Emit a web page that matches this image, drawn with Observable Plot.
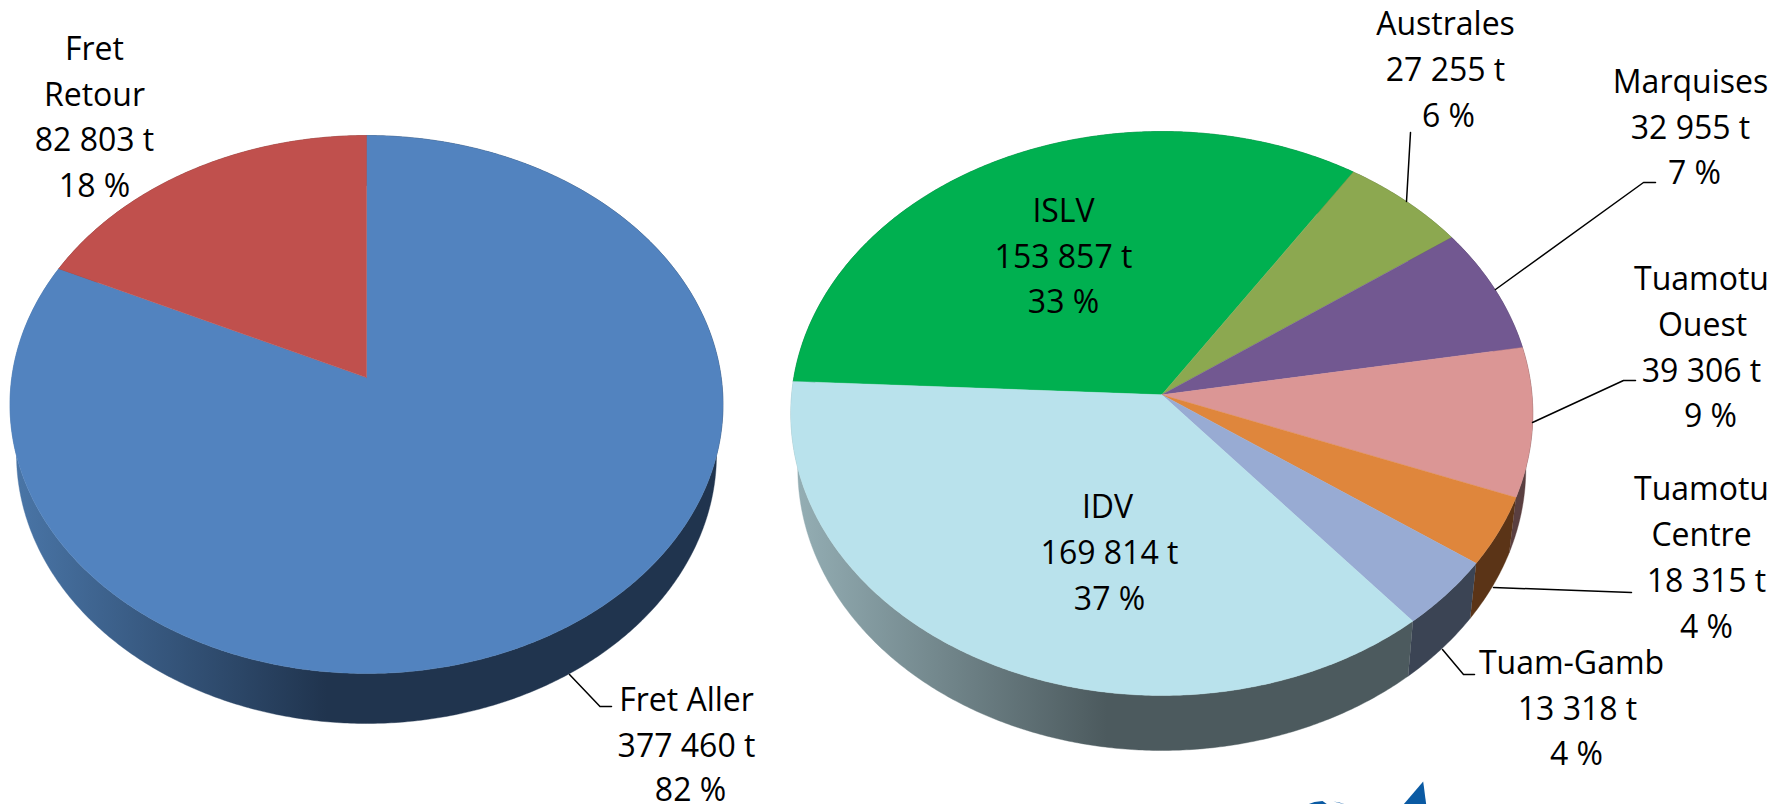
<!DOCTYPE html>
<html>
<head>
<meta charset="utf-8">
<script src="https://cdn.jsdelivr.net/npm/d3@7"></script>
<script src="https://cdn.jsdelivr.net/npm/@observablehq/plot@0.6"></script>
<style>
html,body{margin:0;padding:0;background:#fff;}
svg{display:block;}
</style>
</head>
<body>
<div id="chart"></div>
<script>
// ---- Data ----
const fretCategories = ["Fret Aller", "Fret Retour"];
const fretTonnes = [377460, 82803];
const fretLabels = [["Fret Aller", "377 460 t", "82 %"], ["Fret", "Retour", "82 803 t", "18 %"]];

const archipelCategories = ["ISLV", "Australes", "Marquises", "Tuamotu Ouest", "Tuamotu Centre", "Tuam-Gamb", "IDV"];
const archipelTonnes = [153857, 27255, 32955, 39306, 18315, 18761, 169814];
const archipelLabels = [
  ["ISLV", "153 857 t", "33 %"],
  ["Australes", "27 255 t", "6 %"],
  ["Marquises", "32 955 t", "7 %"],
  ["Tuamotu", "Ouest", "39 306 t", "9 %"],
  ["Tuamotu", "Centre", "18 315 t", "4 %"],
  ["Tuam-Gamb", "13 318 t", "4 %"],
  ["IDV", "169 814 t", "37 %"]
];

// ---- Styles and placement (kept apart from the values) ----
const fretTop = ["#5283bf", "#c0504d"];
const fretSide = ["url(#sideBlue)", "#6e2d2b"];
const archipelTop = ["#00b050", "#8ca850", "#725891", "#db9695", "#df863c", "#98abd3", "#b9e2ec"];
const archipelSide = ["#006a30", "#556630", "#443557", "#5a3f40", "#5b3417", "#3b4454", "url(#sideCyan)"];

const pieLeft = {cx: 366, cy: 404, rx: 356.5, ry: 269, bx: 350, by: 269, depth: 50, apexShift: -0.1, start: 0};
const pieRight = {cx: 1161.3, cy: 413, rx: 371, ry: 282, bx: 364, by: 282, depth: 55, apexShift: -0.0663, start: 272.75};

// label rows: centre x, baseline y
const fretPlacement = [
  [[686, 710], [686, 756], [690, 800]],
  [[94, 59], [94, 105], [94, 150], [94, 196]]
];
const archipelPlacement = [
  [[1063, 221], [1063, 267], [1063, 312]],
  [[1445, 34], [1445, 80], [1448, 126]],
  [[1690, 92], [1690, 138], [1694, 183]],
  [[1701, 289], [1702, 335], [1701, 381], [1710, 426]],
  [[1701, 499], [1701, 545], [1706, 591], [1706, 637]],
  [[1571, 673], [1577, 719], [1576, 764]],
  [[1107, 517], [1109, 563], [1109, 609]]
];
const leaders = [
  [[569, 674], [599.5, 706], [611, 706]],
  [[1410, 132], [1406, 201]],
  [[1495, 289], [1643, 182], [1655, 182]],
  [[1532, 422], [1623, 380], [1635, 380]],
  [[1493, 587], [1631, 592]],
  [[1442, 649], [1463, 674], [1474, 674]]
];
const logoShapes = [
  [[1422.7, 781], [1403, 804], [1425.7, 804]],
  [[1307, 804], [1314, 801.5], [1322, 800.6], [1327, 804]],
  [[1333, 801], [1339, 802], [1345, 804]]
];

// ---- Geometry: true pie angle -> perspective ellipse ----
function rim(p, deg, bottom) {
  const t = deg * Math.PI / 180, a = p.apexShift;
  const d = 1 - a * Math.cos(t);
  const X = Math.sin(t) * Math.sqrt(1 - a * a) / d;
  const Y = (a - Math.cos(t)) / d;
  return bottom
    ? {x: p.cx + X * p.bx, y: p.cy + p.depth + Y * p.by}
    : {x: p.cx + X * p.rx, y: p.cy + Y * p.ry};
}
function apex(p) { return {x: p.cx, y: p.cy + p.apexShift * p.ry}; }
function arc(p, a0, a1, bottom) {
  const n = Math.max(2, Math.ceil(Math.abs(a1 - a0) / 0.5));
  return d3.range(n + 1).map(i => rim(p, a0 + (a1 - a0) * i / n, bottom));
}
function pieMarks(p, values, tops, sides) {
  const total = d3.sum(values);
  const top = [], side = [];
  let a = p.start;
  values.forEach((v, i) => {
    const b = a + v / total * 360;
    side.push(Plot.line([...arc(p, a, b, false), ...arc(p, b, a, true)],
      {x: "x", y: "y", fill: sides[i], stroke: sides[i], strokeWidth: 0.4, curve: "linear"}));
    top.push(Plot.line([apex(p), ...arc(p, a, b, false), apex(p)],
      {x: "x", y: "y", fill: tops[i], stroke: tops[i], strokeWidth: 0.4, curve: "linear"}));
    a = b;
  });
  return [...side, ...top];
}
function rows(labels, placement) {
  return labels.flatMap((ls, i) => ls.map((t, j) => ({t, x: placement[i][j][0], y: placement[i][j][1]})));
}

const gradients = () => d3.create("svg:defs").html(`
  <linearGradient id="sideBlue" gradientUnits="userSpaceOnUse" x1="10" x2="326" y1="0" y2="0">
    <stop offset="0" stop-color="#4a76a8"/><stop offset="1" stop-color="#20344e"/>
  </linearGradient>
  <linearGradient id="sideCyan" gradientUnits="userSpaceOnUse" x1="795" x2="1106" y1="0" y2="0">
    <stop offset="0" stop-color="#94aeb4"/><stop offset="1" stop-color="#4c5a5e"/>
  </linearGradient>`).node();

const plot = Plot.plot({
  width: 1773, height: 804,
  margin: 0,
  x: {axis: null, domain: [0, 1773], range: [0, 1773]},
  y: {axis: null, domain: [0, 804], range: [0, 804]},
  style: {background: "#fff"},
  marks: [
    gradients,
    ...pieMarks(pieLeft, fretTonnes, fretTop, fretSide),
    ...pieMarks(pieRight, archipelTonnes, archipelTop, archipelSide),
    ...leaders.map(l => Plot.line(l, {x: "0", y: "1", stroke: "#000", strokeWidth: 1.5, curve: "linear"})),
    ...logoShapes.map(s => Plot.line(s, {x: "0", y: "1", fill: "#0a5aa3", stroke: "none", curve: "linear"})),
    Plot.text([...rows(fretLabels, fretPlacement), ...rows(archipelLabels, archipelPlacement)], {
      x: "x", y: "y", text: "t", lineAnchor: "bottom", textAnchor: "middle",
      fill: "#000", fontFamily: "Open Sans", fontSize: 32
    })
  ]
});
document.getElementById("chart").append(plot);
</script>
</body>
</html>
